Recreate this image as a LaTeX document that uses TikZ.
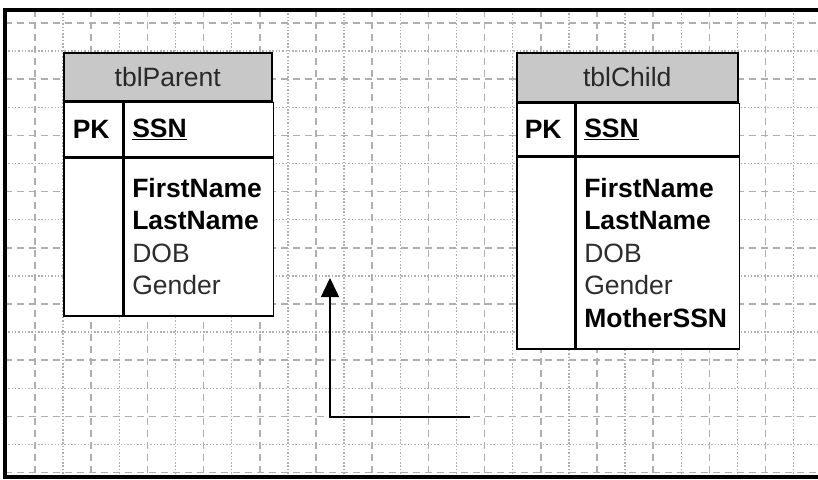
\documentclass[tikz,border=0pt]{standalone}
\usepackage{fontspec}
\setmainfont{Liberation Sans}
\usetikzlibrary{positioning,arrows.meta}

\definecolor{headgray}{RGB}{200,200,200}
\definecolor{gridgray}{RGB}{175,175,175}
\definecolor{textgray}{RGB}{40,40,40}
\definecolor{fieldgray}{RGB}{45,45,45}

\begin{document}
\begin{tikzpicture}[
    x=1pt,
    y=-1pt,
    font=\fontsize{26.5}{32.5}\selectfont,
    grid major/.style={gridgray,line width=1.5pt,dash pattern=on 7pt off 5pt},
    grid minor/.style={gridgray,line width=1.5pt,dash pattern=on 1.5pt off 1.8pt},
    table head/.style={rectangle,draw=black,line width=1.5pt,fill=headgray,text=textgray,anchor=north west,inner sep=0pt},
    key cell/.style={rectangle,draw=black,line width=1.5pt,fill=white,anchor=north west,align=left,inner ysep=0pt},
    field cell/.style={rectangle,draw=black,line width=1.5pt,fill=white,anchor=north west,align=left,inner xsep=8pt,inner ysep=0pt}
]
\useasboundingbox (0,0) rectangle (818,479);

% Grid
\foreach \x in {35,91.2,...,800} \draw[grid major] (\x,10) -- (\x,477);
\foreach \x in {63.1,119.3,...,818} \draw[grid minor] (\x,10) -- (\x,477);
\foreach \y in {23,79.2,...,477} \draw[grid major] (5,\y) -- (818,\y);
\foreach \y in {51.1,107.3,...,477} \draw[grid minor] (5,\y) -- (818,\y);

% Frame
\draw[line width=4pt] (818,10) -- (5,10) -- (5,477) -- (818,477);

% Parent table
\node[table head, minimum width=208pt, minimum height=48pt] (parent) at (63,52) {tblParent};
\node[key cell, inner xsep=9pt, text width=41pt, minimum height=54pt] (parentpk) at (parent.south west) {\textbf{PK}};
\node[key cell, inner xsep=8pt, text width=133pt, minimum height=54pt] (parentssn) at (parentpk.north east) {\textbf{\underline{SSN}}};
\node[field cell, minimum width=59pt, minimum height=158pt] (parentleft) at (parentpk.south west) {};
\node[field cell, text width=133pt, minimum height=158pt] (parentfields) at (parentleft.north east) {\textbf{FirstName}\\\textbf{LastName}\\{\color{fieldgray}DOB}\\{\color{fieldgray}Gender}};

% Child table
\node[table head, minimum width=221pt, minimum height=49pt] (child) at (516,52) {tblChild};
\node[key cell, inner xsep=8pt, text width=42pt, minimum height=52pt] (childpk) at (child.south west) {\textbf{PK}};
\node[key cell, inner xsep=8pt, text width=147pt, minimum height=52pt] (childssn) at (childpk.north east) {\textbf{\underline{SSN}}};
\node[field cell, minimum width=58pt, minimum height=192pt] (childleft) at (childpk.south west) {};
\node[field cell, text width=147pt, minimum height=192pt] (childfields) at (childleft.north east) {\textbf{FirstName}\\\textbf{LastName}\\{\color{fieldgray}DOB}\\{\color{fieldgray}Gender}\\\textbf{MotherSSN}};

% Relationship
\coordinate (relstart) at (470,417);
\coordinate (relend) at (330,278);
\draw[line width=1.5pt,-{Triangle[length=19pt,width=18pt]}] (relstart) -| (relend);

\end{tikzpicture}
\end{document}
